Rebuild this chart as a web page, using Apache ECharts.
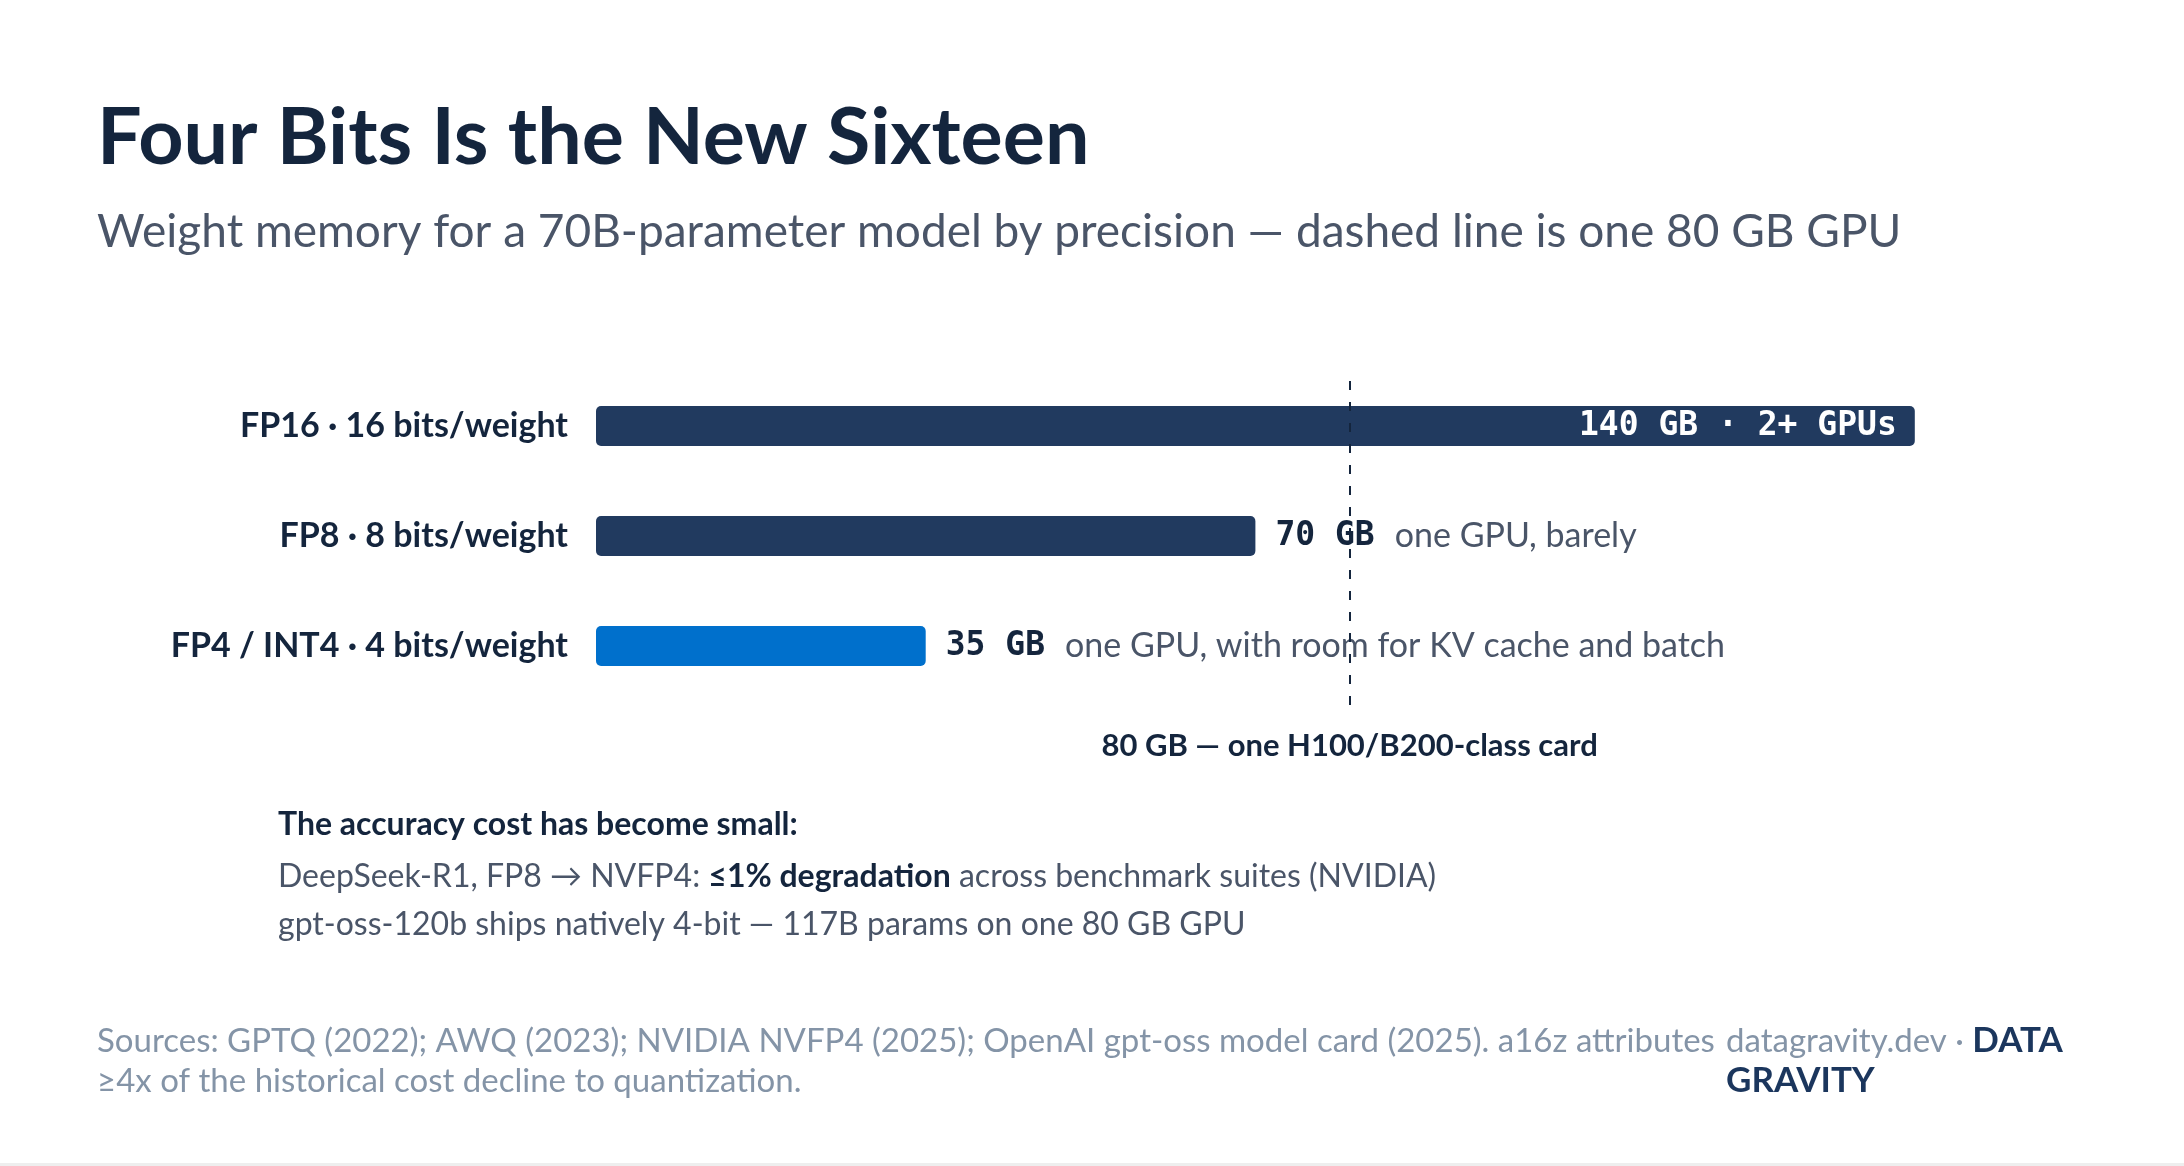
<!DOCTYPE html>
<html>
<head>
<meta charset="utf-8">
<title>Four Bits Is the New Sixteen</title>
<script src="https://cdn.jsdelivr.net/npm/echarts@6/dist/echarts.min.js"></script>
<style>
  html, body { margin: 0; padding: 0; background: #ffffff; }
  #main { width: 2184px; height: 1166px; }
</style>
</head>
<body>
<div id="main"></div>
<script>
// data
const precisions = ["FP16 · 16 bits/weight", "FP8 · 8 bits/weight", "FP4 / INT4 · 4 bits/weight"];
const memoryGB = [140, 70, 35];
const fitNotes = ["2+ GPUs", "one GPU, barely", "one GPU, with room for KV cache and batch"];
const gpuMemoryGB = 80;
const gpuLabel = "80 GB — one H100/B200-class card";

const LATO = "Lato, 'Noto Sans', sans-serif";
const MONO = "'DejaVu Sans Mono', monospace";
const NAVY = "#14253d";
const BAR = "#213a5f";
const BLUE = "#0070cc";
const SLATE = "#4a5568";
const MUTED = "#8494a7";

const chart = echarts.init(document.getElementById("main"), null, { renderer: "canvas" });

const barData = memoryGB.map((v, i) => {
  const overOneGpu = v > gpuMemoryGB;
  return {
    value: v,
    itemStyle: { color: i === memoryGB.length - 1 ? BLUE : BAR },
    label: overOneGpu
      ? {
          show: true,
          position: "insideRight",
          distance: 18,
          formatter: v + " GB · " + fitNotes[i],
          color: "#ffffff",
          fontFamily: MONO,
          fontWeight: "bold",
          fontSize: 33
        }
      : {
          show: true,
          position: "right",
          distance: 20,
          formatter: "{v|" + v + " GB}{d|" + fitNotes[i] + "}",
          rich: {
            v: { fontFamily: MONO, fontWeight: "bold", fontSize: 33, color: NAVY },
            d: { fontFamily: LATO, fontSize: 34, color: SLATE, padding: [0, 0, 0, 20] }
          }
        }
  };
});

const option = {
  backgroundColor: "#ffffff",
  animation: false,
  grid: [
    { left: 596, width: 1413, top: 371, height: 330 },
    { left: 596, width: 1413, top: 381, height: 331 }
  ],
  xAxis: [
    { type: "value", min: 0, max: 150, show: false, gridIndex: 0 },
    { type: "value", min: 0, max: 150, show: false, gridIndex: 1 }
  ],
  yAxis: [
    {
      type: "category",
      data: precisions,
      inverse: true,
      gridIndex: 0,
      axisLine: { show: false },
      axisTick: { show: false },
      axisLabel: {
        margin: 28,
        color: NAVY,
        fontFamily: LATO,
        fontWeight: "bold",
        fontSize: 34
      }
    },
    { type: "value", min: 0, max: 1, inverse: true, show: false, gridIndex: 1 }
  ],
  series: [
    {
      type: "bar",
      xAxisIndex: 0,
      yAxisIndex: 0,
      barWidth: 40,
      itemStyle: { borderRadius: 5 },
      data: barData
    },
    {
      // one 80 GB GPU reference line
      type: "line",
      xAxisIndex: 1,
      yAxisIndex: 1,
      data: [],
      markLine: {
        silent: true,
        symbol: "none",
        lineStyle: { color: NAVY, width: 2, type: [9, 12] },
        label: {
          show: true,
          position: "end",
          distance: 18,
          formatter: gpuLabel,
          color: NAVY,
          fontFamily: LATO,
          fontWeight: "bold",
          fontSize: 31
        },
        data: [[{ coord: [gpuMemoryGB, 0] }, { coord: [gpuMemoryGB, 1] }]]
      }
    }
  ],
  graphic: [
    {
      type: "text", left: 97, top: 99,
      style: { text: "Four Bits Is the New Sixteen", fill: NAVY, font: "bold 79px " + LATO }
    },
    {
      type: "text", left: 97, top: 209,
      style: {
        text: "Weight memory for a 70B-parameter model by precision — dashed line is one 80 GB GPU",
        fill: SLATE, font: "46px " + LATO
      }
    },
    {
      type: "text", left: 278, top: 809,
      style: { text: "The accuracy cost has become small:", fill: NAVY, font: "bold 32px " + LATO }
    },
    {
      type: "text", left: 278, top: 861,
      style: {
        text: "DeepSeek-R1, FP8 → NVFP4: {b|≤1% degradation} across benchmark suites (NVIDIA)",
        fill: SLATE, font: "32px " + LATO,
        rich: { b: { fontFamily: LATO, fontWeight: "bold", fontSize: 32, fill: NAVY, color: NAVY } }
      }
    },
    {
      type: "text", left: 278, top: 909,
      style: {
        text: "gpt-oss-120b ships natively 4-bit — 117B params on one 80 GB GPU",
        fill: SLATE, font: "32px " + LATO
      }
    },
    {
      type: "text", left: 97, top: 1021,
      style: {
        text: "Sources: GPTQ (2022); AWQ (2023); NVIDIA NVFP4 (2025); OpenAI gpt-oss model card (2025). a16z attributes\n≥4x of the historical cost decline to quantization.",
        fill: MUTED, font: "33px " + LATO, lineHeight: 40
      }
    },
    {
      type: "text", left: 1726, top: 1021,
      style: {
        text: "datagravity.dev · {b|DATA}\n{b|GRAVITY}",
        fill: MUTED, font: "33px " + LATO, lineHeight: 40,
        rich: { b: { fontFamily: LATO, fontWeight: "bold", fontSize: 35, fill: "#1b365d", color: "#1b365d", lineHeight: 40 } }
      }
    },
    {
      type: "rect", left: 0, top: 1163,
      shape: { width: 2184, height: 3 },
      style: { fill: "#eeeeee" }
    }
  ]
};

chart.setOption(option);
</script>
</body>
</html>
